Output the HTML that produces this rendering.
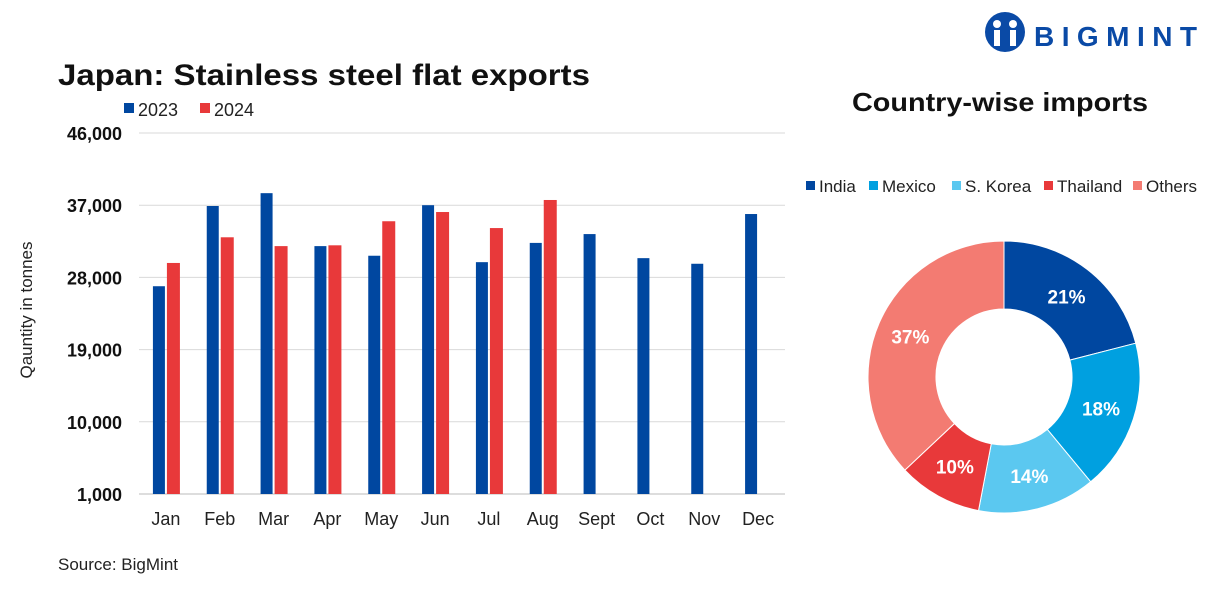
<!DOCTYPE html>
<html><head><meta charset="utf-8">
<style>
body{margin:0;background:#fff;font-family:"Liberation Sans",sans-serif;}
svg text{font-family:"Liberation Sans",sans-serif;}
</style></head>
<body>
<svg width="1205" height="595" viewBox="0 0 1205 595" xmlns="http://www.w3.org/2000/svg">
<rect width="1205" height="595" fill="#fff"/>
<text x="58" y="85" font-size="30" font-weight="bold" fill="#111" textLength="532" lengthAdjust="spacingAndGlyphs">Japan: Stainless steel flat exports</text>
<g>
<rect x="124" y="103" width="10" height="10" fill="#0047a0"/>
<text x="138" y="116" font-size="18" fill="#222">2023</text>
<rect x="200" y="103" width="10" height="10" fill="#e8393a"/>
<text x="214" y="116" font-size="18" fill="#222">2024</text>
</g>
<text transform="translate(32,310) rotate(-90)" text-anchor="middle" font-size="17" fill="#222">Qauntity in tonnes</text>
<g id="bars"></g>
<text x="58" y="570" font-size="17" fill="#222">Source: BigMint</text>

<g>
<circle cx="1005" cy="32" r="20" fill="#0a4aa6"/>
<circle cx="997" cy="24" r="4" fill="#fff"/><circle cx="1013" cy="24" r="4" fill="#fff"/>
<rect x="994" y="30" width="6" height="16" fill="#fff"/><rect x="1010" y="30" width="6" height="16" fill="#fff"/>
<text x="1034" y="46" font-size="28" font-weight="bold" fill="#0a4aa6" textLength="163" lengthAdjust="spacing">BIGMINT</text>
</g>
<text x="1000" y="111" text-anchor="middle" font-size="26" font-weight="bold" fill="#111" textLength="296" lengthAdjust="spacingAndGlyphs">Country-wise imports</text>
<g id="dlegend"></g>
<g id="donut"></g>
</svg>
<script>
const months=["Jan","Feb","Mar","Apr","May","Jun","Jul","Aug","Sept","Oct","Nov","Dec"];
const v2023=[26900,36900,38500,31900,30700,37000,29900,32300,33400,30400,29700,35900];
const v2024=[29800,33000,31900,32000,35000,36150,34150,37650,null,null,null,null];
const yTicks=[1000,10000,19000,28000,37000,46000];
const countries=["India","Mexico","S. Korea","Thailand","Others"];
const shares=[21,18,14,10,37];
const NS="http://www.w3.org/2000/svg";
function mk(t,a,p){const e=document.createElementNS(NS,t);for(const k in a)e.setAttribute(k,a[k]);p.appendChild(e);return e;}
const x0=139,x1=785,yB=494,yT=133;
const yS=v=>yB-(v-1000)/(45000)*(yB-yT);
const band=(x1-x0)/months.length;
const xC=i=>x0+band*(i+0.5);
const g=document.getElementById('bars');
yTicks.forEach(t=>{
 const l=mk('line',{x1:x0,x2:x1,y1:yS(t),y2:yS(t),stroke:t===1000?'#bbb':'#d9d9d9','stroke-width':1},g);
 
 
 const tx=mk('text',{x:122,y:yS(t)+7,'text-anchor':'end','font-size':18,'font-weight':'bold',fill:'#111'},g);
 tx.textContent=t.toLocaleString('en-US');
 
 
});
months.forEach((m,i)=>{
 const c=xC(i);
 const a=mk('rect',{x:c-13,y:yS(v2023[i]),width:12,height:yB-yS(v2023[i]),fill:'#0047a0'},g);
 
 
 if(v2024[i]!=null){
  const b=mk('rect',{x:c+1,y:yS(v2024[i]),width:13,height:yB-yS(v2024[i]),fill:'#e8393a'},g);
  
  
 }
 const t=mk('text',{x:c,y:525,'text-anchor':'middle','font-size':18,fill:'#222'},g);
 t.textContent=m;
 
 
});
const colors=["#0047a0","#00a0e0","#5bc8f0","#e8393a","#f37b72"];
const dl=document.getElementById('dlegend');
const lx=[806,869,952,1044,1133];
countries.forEach((c,i)=>{
 const r=mk('rect',{x:lx[i],y:181,width:9,height:9,fill:colors[i]},dl);
 
 
 const t=mk('text',{x:lx[i]+13,y:192,'font-size':17,fill:'#222'},dl);
 t.textContent=c;
 
 
});
const dg=document.getElementById('donut');
const cx=1004,cy=377,R=136,r0=68;
const tot=shares.reduce((a,b)=>a+b,0);
let ang=-Math.PI/2;
const P=(a,rr)=>[cx+rr*Math.cos(a),cy+rr*Math.sin(a)];
shares.forEach((s,i)=>{
 const a2=ang+s/tot*2*Math.PI;
 const lg=(a2-ang)>Math.PI?1:0;
 const [ax,ay]=P(ang,R),[bx,by]=P(a2,R),[cx2,cy2]=P(a2,r0),[dx,dy]=P(ang,r0);
 const p=mk('path',{d:`M${ax},${ay}A${R},${R} 0 ${lg} 1 ${bx},${by}L${cx2},${cy2}A${r0},${r0} 0 ${lg} 0 ${dx},${dy}Z`,fill:colors[i],stroke:'#fff','stroke-width':1},dg);
 
 
 const m=(ang+a2)/2,[tx,ty]=P(m,(R+r0)/2);
 const t=mk('text',{x:tx,y:ty+7,'text-anchor':'middle','font-size':19,'font-weight':'bold',fill:'#fff'},dg);
 t.textContent=s+'%';
 
 
 ang=a2;
});
</script>
</body></html>
